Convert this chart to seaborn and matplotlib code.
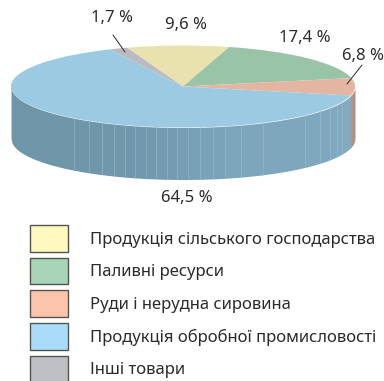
import numpy as np
import matplotlib
matplotlib.use("Agg")
import matplotlib.pyplot as plt
from matplotlib.patches import Rectangle
import seaborn as sns

categories = ["Продукція сільського господарства", "Паливні ресурси",
              "Руди і нерудна сировина", "Продукція обробної промисловості", "Інші товари"]
values = [9.6, 17.4, 6.8, 64.5, 1.7]
value_labels = ["9,6 %", "17,4 %", "6,8 %", "64,5 %", "1,7 %"]
top_colors = ["#e9e2ae", "#9ac4a7", "#e4b5a0", "#9ccae3", "#b9bbc0"]
legend_colors = ["#fef9bf", "#a8d5b5", "#fcc5ab", "#a8dcf9", "#bfc0c4"]
label_px = [(186, 25), (305, 38), (363, 56), (187, 198), (112, 18)]
seam_px = [74, 89, 102, 114, 125, 135, 146, 156, 167, 177, 188, 200, 213, 225, 241, 263, 305, 320, 330, 337, 342]

W, H = 384, 381
CX, CY, RX, RY, DEPTH = 183, 86.5, 172, 41, 52
START = 109

sns.set_theme(style="white")
plt.rcParams["font.family"] = ["Noto Sans", "DejaVu Sans"]
fig = plt.figure(figsize=(W / 100, H / 100), dpi=100)
fig.patch.set_facecolor("white")

ax = fig.add_axes([0, 0, 1, 1])
ax.set_zorder(2)
ax.pie(values, colors=sns.color_palette(top_colors), startangle=START, counterclock=False,
       wedgeprops={"linewidth": 0})
ax.set_aspect("auto")
ax.set_xlim((0 - CX) / RX, (W - CX) / RX)
ax.set_ylim((CY - H) / RY, CY / RY)
ax.patch.set_alpha(0)

px = fig.add_axes([0, 0, 1, 1])
px.set_zorder(1)
px.set_xlim(0, W)
px.set_ylim(H, 0)
px.axis("off")
over = fig.add_axes([0, 0, 1, 1])
over.set_zorder(3)
over.set_xlim(0, W)
over.set_ylim(H, 0)
over.axis("off")
over.patch.set_alpha(0)


def ell_y(x):
    return CY + RY * np.sqrt(np.clip(1 - ((x - CX) / RX) ** 2, 0, 1))


# side wall of the manufacturing slice, built from the slice angle
end_angle = START - sum(values[:3]) * 3.6
x_end = CX + RX * np.cos(np.radians(end_angle))
edges = [CX - RX] + [s for s in seam_px if s < x_end] + [x_end]
wall = sns.blend_palette(["#6f95a9", "#7199ae", "#7ca4ba", "#82abc2"], len(edges) - 1)
for a, b, c in zip(edges[:-1], edges[1:], wall):
    xs = np.linspace(a, b + 0.6, 60)
    px.fill_between(xs, ell_y(xs), ell_y(xs) + DEPTH, color=c, linewidth=0)
for s in edges[1:-1]:
    px.plot([s, s], [ell_y(s), ell_y(s) + DEPTH], color="#a9c4d3", lw=0.5, alpha=0.6)

# side wall of the ore slice
xs = np.linspace(x_end, CX + RX, 40)
px.fill_between(xs, ell_y(xs), ell_y(xs) + DEPTH, color="#b5907f", linewidth=0)

# value labels
for t, (x, y) in zip(value_labels, label_px):
    over.text(x, y, t, ha="center", va="center", fontsize=12, color="#2b2a29")
over.plot([113, 125], [35, 52], color="#2b2a29", lw=0.7)
over.plot([362, 347], [65, 84], color="#2b2a29", lw=0.7)

# legend
for i, (name, c) in enumerate(zip(categories, legend_colors)):
    y0 = 225 + i * 32.7
    over.add_patch(Rectangle((30, y0), 38, 26.5, facecolor=c, edgecolor="#55534f", lw=1.0, clip_on=True))
    over.text(90, y0 + 14.5, name, ha="left", va="center", fontsize=12, color="#2b2a29")

fig.savefig("out.png", dpi=100, facecolor="white")
